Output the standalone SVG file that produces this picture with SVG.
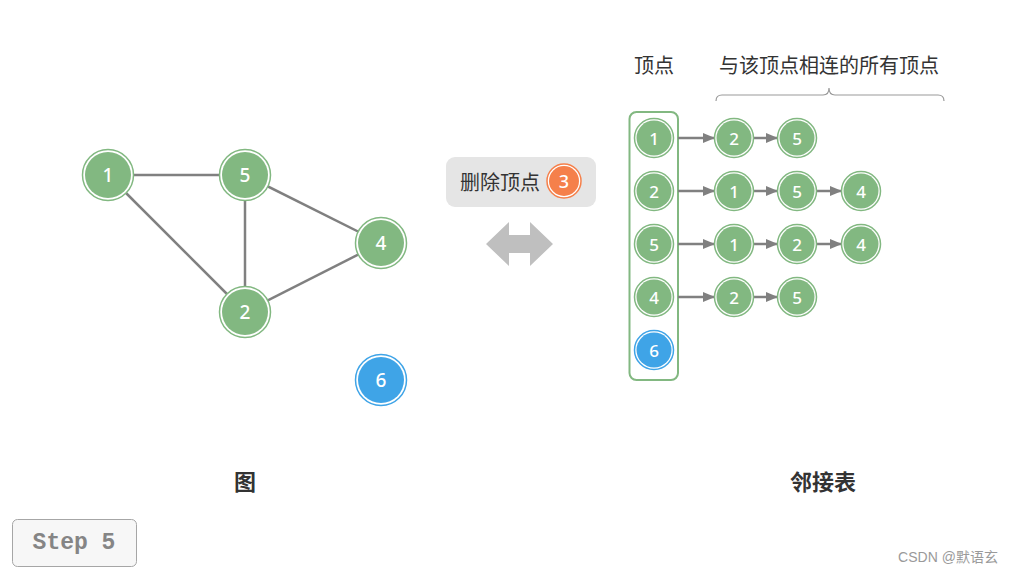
<svg xmlns="http://www.w3.org/2000/svg" width="1014" height="574" viewBox="0 0 1014 574">
<style>
.ring{fill:#ffffff;stroke:#82b881;stroke-width:1.5}
.g{fill:#82b881}
.b{fill:#3fa4e7}
.ringb{fill:#ffffff;stroke:#3fa4e7;stroke-width:1.5}
.nt{font-family:"Noto Sans","DejaVu Sans",sans-serif;fill:#ffffff;text-anchor:middle;dominant-baseline:central;font-weight:500}
.edge{stroke:#808080;stroke-width:2.5;fill:none}
.lbl{font-family:"Noto Sans CJK SC",sans-serif;fill:#333333;text-anchor:middle;dominant-baseline:central}
</style>
<defs>
<marker id="ah" markerUnits="userSpaceOnUse" markerWidth="12" markerHeight="12" viewBox="0 0 12 12" refX="11" refY="6" orient="auto">
<path d="M0,1 L12,6 L0,11 Z" fill="#808080"/>
</marker>
</defs>
<rect width="1014" height="574" fill="#ffffff"/>

<g id="graph-edges">
<line class="edge" x1="108" y1="175" x2="245" y2="175"/>
<line class="edge" x1="108" y1="175" x2="245" y2="312"/>
<line class="edge" x1="245" y1="175" x2="245" y2="312"/>
<line class="edge" x1="245" y1="175" x2="381" y2="243"/>
<line class="edge" x1="245" y1="312" x2="381" y2="243"/>
</g>
<g id="g1"><circle class="ring" cx="108" cy="175" r="25.5"/><circle class="g" cx="108" cy="175" r="23"/><text class="nt" x="108" y="175" font-size="19">1</text></g>
<g id="g5"><circle class="ring" cx="245" cy="175" r="25.5"/><circle class="g" cx="245" cy="175" r="23"/><text class="nt" x="245" y="175" font-size="19">5</text></g>
<g id="g4"><circle class="ring" cx="381" cy="243" r="25.5"/><circle class="g" cx="381" cy="243" r="23"/><text class="nt" x="381" y="243" font-size="19">4</text></g>
<g id="g2"><circle class="ring" cx="245" cy="312" r="25.5"/><circle class="g" cx="245" cy="312" r="23"/><text class="nt" x="245" y="312" font-size="19">2</text></g>
<g id="g6"><circle class="ringb" cx="381" cy="380" r="25.5"/><circle class="b" cx="381" cy="380" r="23"/><text class="nt" x="381" y="380" font-size="19">6</text></g>

<g id="badge">
<rect x="446" y="157" width="150" height="50" rx="9" fill="#e5e5e5"/>
<text class="lbl" x="500" y="181" font-size="20">删除顶点</text>
<circle cx="564" cy="181" r="17" fill="#ffffff" stroke="#f5804b" stroke-width="1.5"/>
<circle cx="564" cy="181" r="15" fill="#f5804b"/>
<text class="nt" x="564" y="181" font-size="18">3</text>
</g>

<g id="double-arrow">
<path d="M486,244 L509,222 L509,235 L530,235 L530,222 L553,244 L530,266 L530,253 L509,253 L509,266 Z" fill="#bfbfbf"/>
</g>

<g id="headers">
<text class="lbl" x="654" y="64" font-size="20">顶点</text>
<text class="lbl" x="829" y="64" font-size="20">与该顶点相连的所有顶点</text>
<path d="M716,101 Q716,95 722,95 L823,95 Q829,95 829,88 Q829,95 835,95 L938,95 Q944,95 944,101" fill="none" stroke="#999999" stroke-width="1.2"/>
</g>

<g id="column">
<rect x="629.5" y="112" width="48.5" height="268" rx="7" fill="none" stroke="#82b881" stroke-width="2"/>
</g>

<g id="connectors">
<line class="edge" x1="678" y1="138" x2="714" y2="138" marker-end="url(#ah)"/>
<line class="edge" x1="753" y1="138" x2="777" y2="138" marker-end="url(#ah)"/>
<line class="edge" x1="678" y1="191" x2="714" y2="191" marker-end="url(#ah)"/>
<line class="edge" x1="753" y1="191" x2="777" y2="191" marker-end="url(#ah)"/>
<line class="edge" x1="816" y1="191" x2="841" y2="191" marker-end="url(#ah)"/>
<line class="edge" x1="678" y1="244" x2="714" y2="244" marker-end="url(#ah)"/>
<line class="edge" x1="753" y1="244" x2="777" y2="244" marker-end="url(#ah)"/>
<line class="edge" x1="816" y1="244" x2="841" y2="244" marker-end="url(#ah)"/>
<line class="edge" x1="678" y1="297" x2="714" y2="297" marker-end="url(#ah)"/>
<line class="edge" x1="753" y1="297" x2="777" y2="297" marker-end="url(#ah)"/>
</g>

<g id="v1"><circle class="ring" cx="654" cy="138" r="19.5"/><circle class="g" cx="654" cy="138" r="17.5"/><text class="nt" x="654" y="138" font-size="17">1</text></g>
<g id="v2"><circle class="ring" cx="654" cy="191" r="19.5"/><circle class="g" cx="654" cy="191" r="17.5"/><text class="nt" x="654" y="191" font-size="17">2</text></g>
<g id="v5"><circle class="ring" cx="654" cy="244" r="19.5"/><circle class="g" cx="654" cy="244" r="17.5"/><text class="nt" x="654" y="244" font-size="17">5</text></g>
<g id="v4"><circle class="ring" cx="654" cy="297" r="19.5"/><circle class="g" cx="654" cy="297" r="17.5"/><text class="nt" x="654" y="297" font-size="17">4</text></g>
<g id="v6"><circle class="ringb" cx="654" cy="350" r="19.5"/><circle class="b" cx="654" cy="350" r="17.5"/><text class="nt" x="654" y="350" font-size="17">6</text></g>

<g id="r1a"><circle class="ring" cx="734" cy="138" r="19.5"/><circle class="g" cx="734" cy="138" r="17.5"/><text class="nt" x="734" y="138" font-size="17">2</text></g>
<g id="r1b"><circle class="ring" cx="797" cy="138" r="19.5"/><circle class="g" cx="797" cy="138" r="17.5"/><text class="nt" x="797" y="138" font-size="17">5</text></g>
<g id="r2a"><circle class="ring" cx="734" cy="191" r="19.5"/><circle class="g" cx="734" cy="191" r="17.5"/><text class="nt" x="734" y="191" font-size="17">1</text></g>
<g id="r2b"><circle class="ring" cx="797" cy="191" r="19.5"/><circle class="g" cx="797" cy="191" r="17.5"/><text class="nt" x="797" y="191" font-size="17">5</text></g>
<g id="r2c"><circle class="ring" cx="861" cy="191" r="19.5"/><circle class="g" cx="861" cy="191" r="17.5"/><text class="nt" x="861" y="191" font-size="17">4</text></g>
<g id="r5a"><circle class="ring" cx="734" cy="244" r="19.5"/><circle class="g" cx="734" cy="244" r="17.5"/><text class="nt" x="734" y="244" font-size="17">1</text></g>
<g id="r5b"><circle class="ring" cx="797" cy="244" r="19.5"/><circle class="g" cx="797" cy="244" r="17.5"/><text class="nt" x="797" y="244" font-size="17">2</text></g>
<g id="r5c"><circle class="ring" cx="861" cy="244" r="19.5"/><circle class="g" cx="861" cy="244" r="17.5"/><text class="nt" x="861" y="244" font-size="17">4</text></g>
<g id="r4a"><circle class="ring" cx="734" cy="297" r="19.5"/><circle class="g" cx="734" cy="297" r="17.5"/><text class="nt" x="734" y="297" font-size="17">2</text></g>
<g id="r4b"><circle class="ring" cx="797" cy="297" r="19.5"/><circle class="g" cx="797" cy="297" r="17.5"/><text class="nt" x="797" y="297" font-size="17">5</text></g>

<g id="captions">
<text class="lbl" x="245" y="480" font-size="22" font-weight="bold">图</text>
<text class="lbl" x="823" y="480" font-size="22" font-weight="bold">邻接表</text>
</g>

<g id="step">
<rect x="12.5" y="519.5" width="124" height="47" rx="5" fill="#f7f7f7" stroke="#a6a6a6" stroke-width="1"/>
<text x="74" y="543" font-family="'Liberation Mono','DejaVu Sans Mono',monospace" font-size="23" font-weight="bold" fill="#858585" text-anchor="middle" dominant-baseline="central">Step 5</text>
</g>

<text x="948" y="557" font-family="'Liberation Sans','Noto Sans CJK SC',sans-serif" font-size="14" fill="#9a9a9a" text-anchor="middle" dominant-baseline="central">CSDN @默语玄</text>
</svg>
